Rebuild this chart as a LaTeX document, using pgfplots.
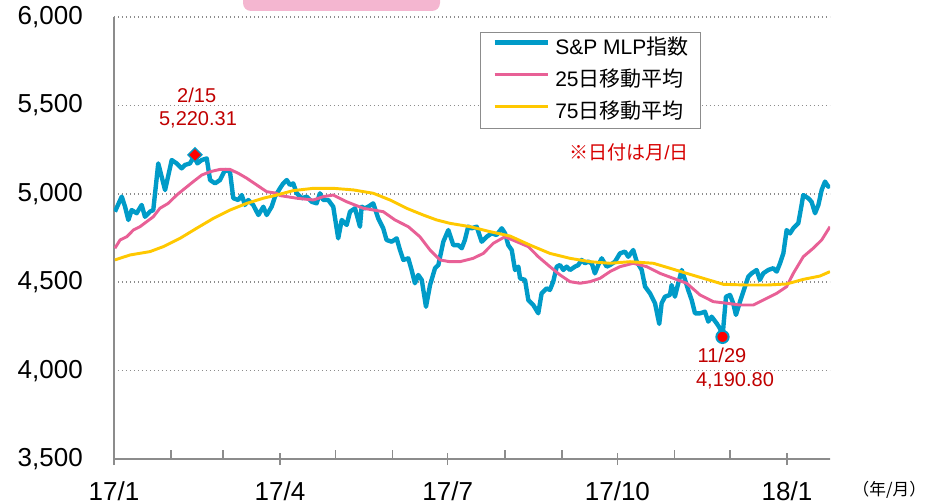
\documentclass[border=0pt]{standalone}
\usepackage{fontspec}
\setmainfont{Liberation Sans}
\newfontfamily\cjk{Noto Sans CJK JP}
\usepackage{pgfplots}
\pgfplotsset{compat=1.18}
\definecolor{mlpblue}{RGB}{0,155,200}
\definecolor{mapink}{RGB}{232,96,150}
\definecolor{mayellow}{RGB}{255,200,0}
\definecolor{annred}{RGB}{192,0,0}
\definecolor{notered}{RGB}{215,0,0}
\definecolor{titlepink}{RGB}{244,182,208}
\definecolor{axgray}{RGB}{140,140,140}

\begin{document}
\begin{tikzpicture}[x=1pt,y=1pt]
\useasboundingbox (-85.5,-33.75) rectangle (609,344.25);
\fill[titlepink, rounded corners=6pt] (96.75,336) rectangle (244.5,362);
\begin{axis}[
  at={(0,0)}, anchor=south west,
  scale only axis, width=537pt, height=331.5pt,
  xmin=0, xmax=388.3, ymin=3500, ymax=6000,
  axis x line*=bottom, axis y line*=left,
  axis line style={color=axgray, line width=1.1pt},
  xtick={0,90,181,273,365},
  xticklabels={17/1,17/4,17/7,17/10,18/1},
  minor xtick={31,59,120,151,212,243,304,334},
  ytick={3500,4000,...,6000},
  scaled y ticks=false,
  /pgf/number format/.cd, 1000 sep={,}, assume math mode=true, /pgfplots/.cd,
  tick align=center,
  major tick length=9pt, minor tick length=7pt,
  x tick style={color=axgray, line width=1.1pt},
  minor x tick style={yshift=3.5pt},
  y tick style={draw=none},
  yticklabel style={font=\fontsize{19.5}{23}\selectfont, inner sep=0pt, xshift=-18.75pt},
  xticklabel style={font=\fontsize{19.5}{23}\selectfont, inner sep=0pt, yshift=-12pt},
  ymajorgrids,
  major grid style={color=axgray, line width=1.1pt, dash pattern=on 1.1pt off 1.9pt},
  legend cell align=left,
  legend style={at={(0.511,0.966)}, anchor=north west, draw=axgray, line width=1pt, fill=white,
    font=\fontsize{15.75}{18}\selectfont, inner xsep=9pt, inner ysep=4.75pt,
    row sep=9.5pt, column sep=3.75pt,
    nodes={inner sep=0pt, text height=11.5pt, text depth=3pt}},
  legend image code/.code={\draw[#1] (0pt,4.5pt) -- (40pt,4.5pt);},
]
\addplot[mlpblue, line width=3.3pt, line join=round] coordinates {
(0.5,4899) (4.2,4984) (6.0,4927) (7.8,4852) (9.6,4908) (12.3,4890) (15.0,4937) (16.8,4870)
(19.5,4899) (21.3,4908) (24.0,5172) (27.7,5021) (31.3,5191) (34.0,5172) (36.7,5144) (38.5,5163)
(41.2,5172) (43.9,5220) (45.2,5172) (47.6,5191) (50.3,5200) (52.1,5078) (54.8,5059) (57.5,5078)
(60.2,5135) (62.9,5125) (64.7,4975) (67.4,4965) (69.3,4993) (71.0,4937) (72.8,4965) (75.5,4937)
(78.3,4880) (81.0,4927) (82.8,4880) (85.5,4927) (87.3,4984) (90.0,5031) (91.8,5059) (93.7,5078)
(95.4,5050) (97.2,5059) (99.1,5003) (101.8,4975) (104.5,4984) (107.2,4955) (109.9,4946) (111.7,5003)
(113.5,4965) (116.2,4965) (118.9,4927) (121.6,4748) (123.5,4852) (126.2,4824) (128.0,4899) (130.7,4918)
(133.4,4814) (134.3,4927) (136.1,4918) (137.9,4927) (140.6,4946) (143.3,4861) (146.0,4805) (147.8,4739)
(150.6,4729) (153.3,4748) (155.1,4682) (156.9,4626) (159.6,4635) (161.4,4569) (163.2,4494) (165.0,4541)
(166.9,4513) (169.2,4361) (171.4,4484) (174.1,4579) (175.9,4597) (178.6,4729) (181.3,4795) (184.0,4710)
(186.7,4710) (188.6,4692) (190.3,4739) (192.1,4814) (194.0,4805) (196.7,4814) (199.4,4729) (202.1,4757)
(204.8,4776) (207.5,4767) (210.3,4805) (212.1,4776) (213.8,4710) (215.7,4682) (217.5,4569) (219.3,4588)
(220.2,4522) (222.9,4513) (224.7,4399) (227.4,4371) (230.1,4324) (231.9,4437) (234.6,4465) (236.4,4456)
(238.2,4503) (240.1,4588) (241.9,4597) (243.7,4569) (245.5,4588) (247.3,4569) (250.0,4588) (251.8,4597)
(253.6,4626) (255.4,4607) (257.2,4616) (259.1,4607) (260.8,4550) (262.6,4597) (264.5,4635) (267.2,4588)
(269.0,4597) (271.7,4616) (274.4,4663) (277.1,4673) (278.9,4644) (281.6,4682) (283.5,4616) (286.2,4569)
(288.0,4475) (290.7,4437) (293.4,4381) (295.7,4264) (297.0,4381) (298.8,4418) (301.5,4428) (302.4,4484)
(304.2,4418) (306.0,4494) (307.9,4569) (309.7,4513) (311.4,4456) (313.3,4399) (315.1,4324) (317.8,4324)
(320.5,4333) (322.3,4277) (324.1,4305) (326.8,4268) (328.6,4239) (330.0,4191) (331.9,4418) (334.1,4428)
(335.8,4381) (337.3,4315) (339.5,4390) (342.2,4475) (344.0,4531) (345.8,4550) (348.5,4569) (350.3,4513)
(352.1,4550) (354.8,4569) (357.5,4579) (359.4,4560) (361.2,4607) (363.0,4663) (364.8,4795) (366.6,4776)
(368.4,4805) (371.1,4833) (372.9,4937) (373.8,4993) (376.5,4975) (378.3,4955) (380.2,4890) (382.0,4937)
(383.8,5022) (385.6,5069) (387.4,5040) (388.3,5050)
};
\addlegendentry{S\&P MLP{\cjk 指数}}
\addplot[mapink, line width=2.2pt, line join=round] coordinates {
(0.5,4692) (3.3,4739) (6.9,4757) (10.5,4795) (14.1,4814) (17.7,4842) (21.3,4870) (24.9,4918)
(29.4,4946) (34.0,4993) (38.5,5031) (43.0,5069) (47.6,5106) (52.1,5125) (57.5,5138) (62.9,5138)
(67.4,5116) (72.0,5088) (77.4,5050) (82.8,5012) (88.2,5003) (90.0,4990) (99.1,4975) (108.1,4965)
(113.5,4984) (118.9,4993) (126.2,4955) (135.2,4918) (146.0,4899) (152.4,4852) (159.6,4814) (165.9,4757)
(171.4,4682) (176.8,4626) (182.0,4616) (187.6,4616) (194.8,4635) (200.3,4663) (205.7,4720) (212.0,4757)
(218.4,4729) (224.7,4701) (230.1,4644) (236.4,4588) (241.9,4541) (247.3,4503) (252.7,4494) (258.2,4503)
(263.6,4522) (269.0,4560) (274.4,4588) (281.6,4607) (288.9,4588) (296.1,4550) (303.3,4522) (310.6,4494)
(317.8,4428) (325.0,4390) (332.3,4381) (339.5,4371) (346.7,4371) (352.1,4399) (359.4,4437) (364.8,4475)
(368.4,4550) (373.8,4644) (379.2,4692) (383.8,4739) (388.3,4814)
};
\addlegendentry{25{\cjk 日移動平均}}
\addplot[mayellow, line width=2.2pt, line join=round] coordinates {
(0.5,4626) (8.7,4654) (19.5,4673) (26.7,4701) (35.8,4748) (44.8,4805) (53.9,4861) (62.9,4908)
(72.0,4946) (81.0,4975) (88.2,4993) (97.2,5018) (108.1,5031) (118.9,5031) (129.8,5022) (140.6,5003)
(149.7,4965) (158.7,4918) (167.7,4880) (175.0,4852) (182.2,4833) (193.1,4814) (203.9,4786) (214.8,4761)
(225.6,4710) (236.4,4663) (247.3,4635) (258.2,4616) (269.0,4607) (279.8,4616) (292.5,4607) (301.5,4579)
(310.6,4550) (319.6,4522) (330.5,4488) (343.1,4484) (354.1,4484) (364.8,4490) (373.8,4516) (382.9,4535)
(388.3,4560)
};
\addlegendentry{75{\cjk 日移動平均}}
\addplot[forget plot, only marks, mark=square*, mark size=3.7pt,
  mark options={rotate=45, fill=red, draw=mlpblue, line width=1pt}] coordinates {(43.9,5220.31)};
\addplot[forget plot, only marks, mark=*, mark size=4.6pt,
  mark options={fill=red, draw=mlpblue, line width=1.5pt}] coordinates {(330,4190.8)};
\end{axis}
\begin{scope}[font=\fontsize{15}{18}\selectfont, text=annred]
\node at (62,273) {2/15};
\node at (63,254.25) {5,220.31};
\node at (456,78) {11/29};
\node at (465.75,58.5) {4,190.80};
\end{scope}
\node[text=notered, font=\fontsize{14.25}{17}\selectfont] at (386.25,230.25) {{\cjk ※日付は月}/{\cjk 日}};
\node[font=\fontsize{12.5}{15}\selectfont\cjk] at (581.5,-23.25) {（年/月）};
\end{tikzpicture}
\end{document}
